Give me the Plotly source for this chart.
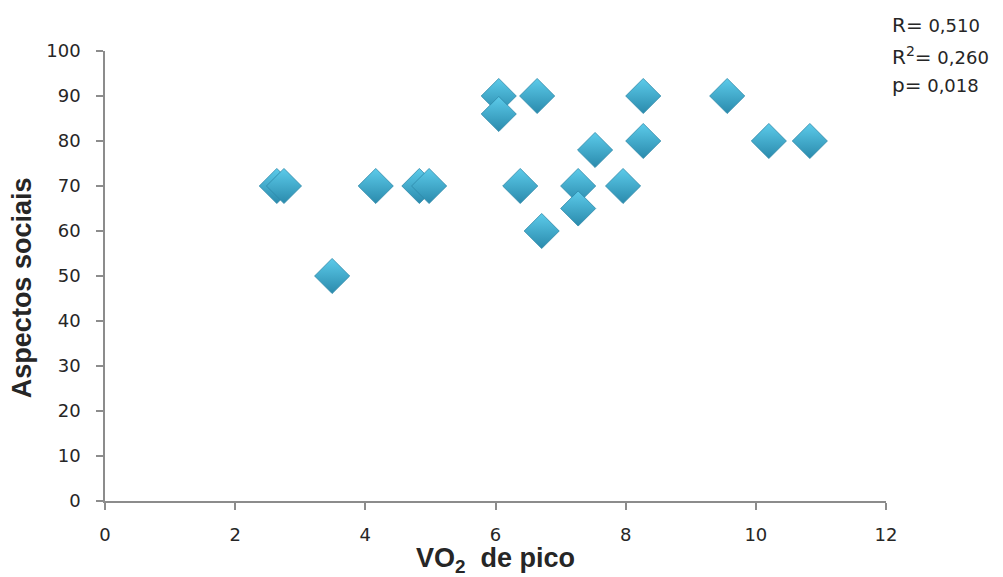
import plotly.graph_objects as go

# VO2 de pico vs. Aspectos sociais (one point per subject)
vo2_pico = [2.64, 2.75, 3.49, 4.16, 4.83, 4.98, 6.05, 6.05, 6.64, 6.38,
            6.71, 7.27, 7.27, 7.53, 7.96, 8.27, 8.27, 9.56, 10.2, 10.83]
aspectos_sociais = [70, 70, 50, 70, 70, 70, 90, 86, 90, 70,
                    60, 70, 65, 78, 70, 90, 80, 90, 80, 80]

x_ticks = [0, 2, 4, 6, 8, 10, 12]
y_ticks = [0, 10, 20, 30, 40, 50, 60, 70, 80, 90, 100]

stats_lines = [("R=", " 0,510"), ("R<sup>2</sup>=", " 0,260"), ("p=", " 0,018")]

tick_font = dict(family="DejaVu Sans", size=18, color="#262626")
title_font = dict(family="Liberation Sans", size=27, color="#262626", weight="bold")
axis_col = "#8c8c8c"

fig = go.Figure()
fig.add_trace(go.Scatter(
    x=vo2_pico, y=aspectos_sociais, mode="markers",
    marker=dict(symbol="diamond", size=27, color="#5ccbea",
                gradient=dict(type="vertical", color="#2a8aac"),
                line=dict(color="#2c88a8", width=0.8)),
    hoverinfo="x+y", showlegend=False,
))

for i, (lbl, val) in enumerate(stats_lines):
    fig.add_annotation(
        xref="paper", yref="paper", x=1.0, y=1.0,
        xanchor="left", yanchor="top", xshift=4, yshift=40 - i * 30,
        text=f"<span style='font-size:20px'>{lbl}</span>"
             f"<span style='font-size:18px'>{val}</span>",
        showarrow=False, align="left",
        font=dict(family="DejaVu Sans", color="#262626"),
    )

# y-axis title, placed slightly below the middle of the axis
fig.add_annotation(
    xref="paper", yref="paper", x=0, y=0.473, xanchor="center", yanchor="middle",
    xshift=-83, text="Aspectos sociais", textangle=-90, showarrow=False,
    font=title_font,
)

fig.update_xaxes(
    range=[0, 12], tickvals=x_ticks, ticktext=[str(v) for v in x_ticks],
    showgrid=False, zeroline=False, showline=True, linecolor=axis_col,
    linewidth=1.5, ticks="outside", ticklen=7, tickcolor=axis_col,
    tickwidth=1.5, tickfont=tick_font, ticklabelstandoff=10, automargin=False,
    title=dict(text="VO<sub>2</sub>  de pico", standoff=4, font=title_font),
)
fig.update_yaxes(
    range=[0, 100], tickvals=y_ticks, ticktext=[str(v) for v in y_ticks],
    showgrid=False, zeroline=False, showline=True, linecolor=axis_col,
    linewidth=1.5, ticks="outside", ticklen=7, tickcolor=axis_col,
    tickwidth=1.5, tickfont=tick_font, ticklabelstandoff=12, automargin=False,
)
fig.update_layout(
    width=1003, height=577,
    margin=dict(l=105, r=117, t=51, b=76),
    paper_bgcolor="white", plot_bgcolor="white",
)

fig.write_html("out.html")
